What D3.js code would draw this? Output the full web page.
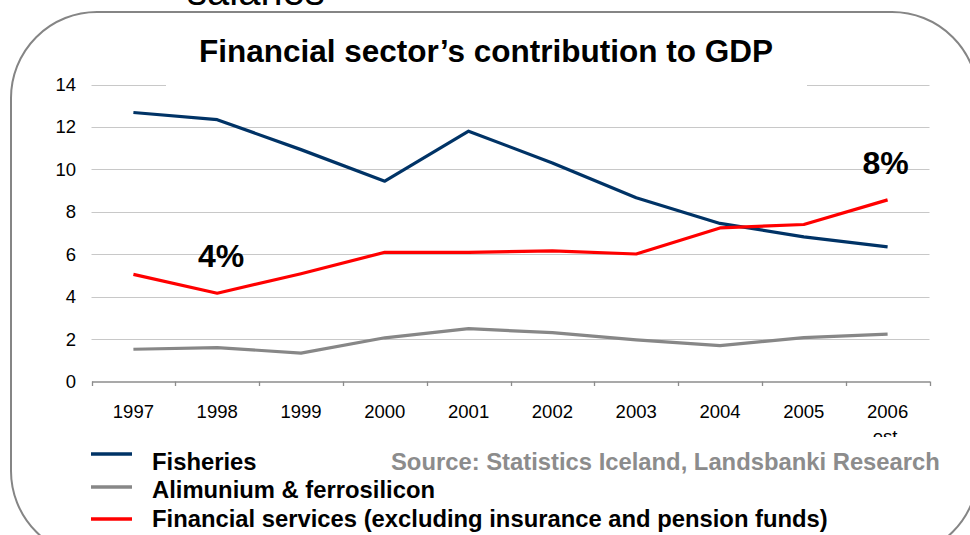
<!DOCTYPE html>
<html><head><meta charset="utf-8">
<script src="https://cdn.jsdelivr.net/npm/d3@7"></script>
<style>
body{margin:0;background:#fff;}
svg{display:block;font-family:"Liberation Sans",Arial,sans-serif;}
</style></head>
<body><svg id="c" width="970" height="535"></svg>
<script>
const years = ["1997","1998","1999","2000","2001","2002","2003","2004","2005","2006"];
const fisheries = [12.68,12.34,10.93,9.44,11.8,10.3,8.66,7.45,6.82,6.35];
const aluminium = [1.52,1.60,1.34,2.06,2.49,2.30,1.96,1.69,2.07,2.23];
const financial = [5.05,4.16,5.08,6.09,6.09,6.16,6.01,7.24,7.40,8.56];
const yTicks = [0,2,4,6,8,10,12,14];
const seriesNames = ["Fisheries","Alimunium & ferrosilicon","Financial services (excluding insurance and pension funds)"];
const seriesColors = ["#003366","#878787","#ff0000"];
const titleText = "Financial sector\u2019s contribution to GDP";
const sourceText = "Source: Statistics Iceland, Landsbanki Research";
const notes = [{year:"1998", label:"4%"},{year:"2006", label:"8%"}];

const svg = d3.select("#c");
const x = d3.scaleBand().domain(years).range([91.5, 929.5]);
const y = d3.scaleLinear().domain([0,14]).range([381.5, 84.5]);

// rounded frame
svg.append("rect").attr("x",11).attr("y",12).attr("width",967).attr("height",545)
  .attr("rx",86).attr("ry",86).attr("fill","none").attr("stroke","#858585").attr("stroke-width",2);

// cut-off heading above frame
svg.append("text").attr("x",187).attr("y",5).attr("font-size",40).attr("fill","#000").text("salaries");

// gridlines
svg.append("g").selectAll("line").data(yTicks.filter(d=>d>0)).join("line")
  .attr("x1",91.5).attr("x2",929.5).attr("y1",d=>Math.round(y(d))+0.5).attr("y2",d=>Math.round(y(d))+0.5)
  .attr("stroke","#c8c8c8").attr("stroke-width",1);

// y labels
svg.append("g").selectAll("text").data(yTicks).join("text")
  .attr("x",76).attr("y",d=>y(d)).attr("dy","0.35em").attr("text-anchor","end")
  .attr("font-size",18.5).attr("fill","#000").text(d=>d);

// x axis
const xAxis = d3.axisBottom(x).tickSize(0).tickFormat("");
const gx = svg.append("g").attr("transform","translate(0,381.5)").call(xAxis);
gx.select(".domain").attr("stroke","#8c8c8c").attr("stroke-width",1.3);
const bounds = years.map(d=>x(d)).concat([x.range()[1]]);
svg.append("g").selectAll("line").data(bounds).join("line")
  .attr("x1",d=>Math.round(d)+0.5).attr("x2",d=>Math.round(d)+0.5).attr("y1",381.5).attr("y2",386)
  .attr("stroke","#8c8c8c").attr("stroke-width",1.3);
svg.append("g").selectAll("text").data(years).join("text")
  .attr("x",d=>x(d)+x.bandwidth()/2).attr("y",418).attr("text-anchor","middle")
  .attr("font-size",18.5).attr("fill","#000").text(d=>d);
// clipped "est." under last year
svg.append("text").attr("x",x("2006")+x.bandwidth()/2).attr("y",443).attr("text-anchor","middle")
  .attr("font-size",18.5).attr("fill","#000").text("est.");
svg.append("rect").attr("x",820).attr("y",437).attr("width",120).attr("height",20).attr("fill","#fff");

// lines
const line = d3.line().x((d,i)=>x(years[i])+x.bandwidth()/2).y(d=>y(d));
[fisheries, aluminium, financial].forEach((s,k)=>{
  svg.append("path").datum(s).attr("d",line).attr("fill","none")
    .attr("stroke",seriesColors[k]).attr("stroke-width",3.2).attr("stroke-linejoin","round");
});

// title with white backing
svg.append("rect").attr("x",166).attr("y",70).attr("width",641).attr("height",24).attr("fill","#fff");
svg.append("text").attr("x",486).attr("y",62).attr("text-anchor","middle")
  .attr("font-size",31.5).attr("font-weight","bold").attr("fill","#000").text(titleText);

// annotations
svg.append("text").attr("x",x("1998")+x.bandwidth()/2+4).attr("y",267).attr("text-anchor","middle")
  .attr("font-size",32).attr("font-weight","bold").text(notes[0].label);
svg.append("text").attr("x",x("2006")+x.bandwidth()/2-2).attr("y",173.5).attr("text-anchor","middle")
  .attr("font-size",32).attr("font-weight","bold").text(notes[1].label);

// legend
const legY = [454,487,519];
const legTY = [470,498,527];
seriesNames.forEach((n,k)=>{
  svg.append("line").attr("x1",91).attr("x2",132).attr("y1",legY[k]).attr("y2",legY[k])
    .attr("stroke",seriesColors[k]).attr("stroke-width",3.5);
  svg.append("text").attr("x",152).attr("y",legTY[k]).attr("font-size",23.8).attr("font-weight","bold")
    .attr("fill","#000").text(n);
});
svg.append("text").attr("x",391).attr("y",470).attr("font-size",23.8).attr("font-weight","bold")
  .attr("fill","#8c8c8c").text(sourceText);
</script></body></html>
